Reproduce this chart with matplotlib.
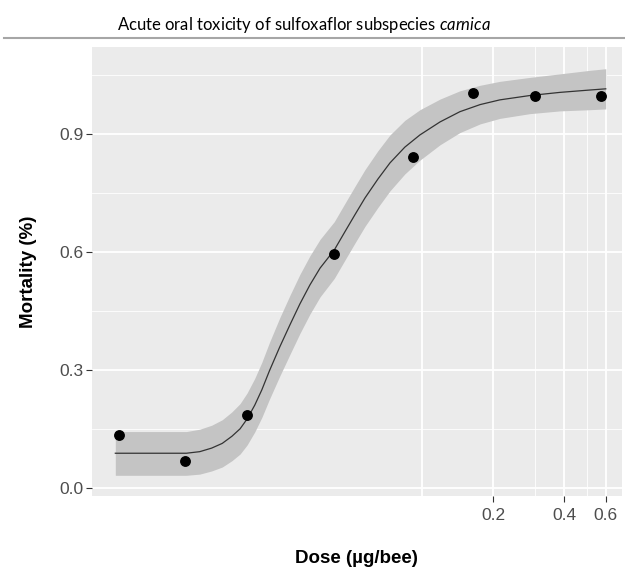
import numpy as np
import matplotlib
matplotlib.use('Agg')
import matplotlib.pyplot as plt
from matplotlib.lines import Line2D

# observed mortality per dose
dose = [0.0052, 0.0099, 0.018, 0.0424, 0.0915, 0.1645, 0.30, 0.575]
mortality = [0.135, 0.069, 0.187, 0.596, 0.842, 1.004, 0.996, 0.997]

# fitted curve and confidence band
fit_dose = [0.005, 0.010, 0.0114, 0.0128, 0.0142, 0.0156, 0.0169, 0.0181, 0.0195,
            0.0209, 0.0225, 0.0249, 0.0275, 0.0303, 0.0334, 0.0369, 0.0424, 0.047,
            0.0518, 0.0572, 0.0649, 0.073, 0.0844, 0.0978, 0.119, 0.1445, 0.176,
            0.2135, 0.286, 0.384, 0.514, 0.600]
fit_mort = [0.089, 0.089, 0.093, 0.102, 0.114, 0.132, 0.151, 0.176, 0.211,
            0.250, 0.298, 0.359, 0.415, 0.468, 0.516, 0.559, 0.605, 0.651,
            0.694, 0.737, 0.785, 0.826, 0.866, 0.897, 0.930, 0.956, 0.974,
            0.986, 0.997, 1.005, 1.011, 1.014]
fit_lo = [0.033, 0.033, 0.036, 0.044, 0.054, 0.070, 0.087, 0.110, 0.143,
          0.180, 0.226, 0.285, 0.340, 0.393, 0.442, 0.486, 0.533, 0.579,
          0.622, 0.665, 0.713, 0.755, 0.798, 0.833, 0.872, 0.903, 0.925,
          0.939, 0.951, 0.958, 0.961, 0.963]
fit_hi = [0.144, 0.144, 0.150, 0.160, 0.174, 0.194, 0.215, 0.242, 0.279,
          0.320, 0.370, 0.433, 0.490, 0.543, 0.590, 0.632, 0.677, 0.723,
          0.766, 0.809, 0.857, 0.897, 0.934, 0.961, 0.988, 1.009, 1.023,
          1.033, 1.043, 1.052, 1.061, 1.065]

x_ticks = [0.2, 0.4, 0.6]
x_tick_labels = ['0.2', '0.4', '0.6']
x_minor = [0.1, 0.3, 0.5, 0.7]
y_ticks = [0.0, 0.3, 0.6, 0.9]
y_minor = [0.15, 0.45, 0.75, 1.05]

plt.rcParams['font.family'] = ['Liberation Sans', 'DejaVu Sans']
plt.rcParams['mathtext.fontset'] = 'custom'
plt.rcParams['mathtext.it'] = 'Lato:italic'
plt.rcParams['mathtext.rm'] = 'Lato'

fig = plt.figure(figsize=(6.25, 5.72), dpi=100)
ax = fig.add_axes([0.1467, 0.1329, 0.9952 - 0.1467, 0.9184 - 0.1329])
ax.set_facecolor('#ebebeb')
ax.set_xscale('log')
ax.set_xlim(0.00397, 0.703)
ax.set_ylim(-0.0195, 1.121)

# grid
for v in y_minor:
    ax.axhline(v, color='white', lw=0.6, zorder=0.5)
for v in y_ticks:
    ax.axhline(v, color='white', lw=1.3, zorder=0.6)
for v in x_minor:
    ax.axvline(v, color='white', lw=1.3 if v == 0.1 else 0.6, zorder=0.5)
for v in x_ticks:
    ax.axvline(v, color='white', lw=1.3, zorder=0.6)

ax.fill_between(fit_dose, fit_lo, fit_hi, color='#c4c4c4', lw=0, zorder=1)
ax.plot(fit_dose, fit_mort, color='#333333', lw=0.9, zorder=2)
ax.plot(dose, mortality, 'o', color='black', ms=6.8, zorder=3)

ax.set_xticks(x_ticks)
ax.set_xticklabels(x_tick_labels)
ax.xaxis.set_minor_locator(matplotlib.ticker.NullLocator())
ax.set_yticks(y_ticks)
ax.set_yticklabels(['%.1f' % v for v in y_ticks])
ax.tick_params(axis='both', length=4, width=0.8, color='#333333',
               labelcolor='#4d4d4d', labelsize=12.5)
ax.tick_params(axis='x', pad=5)
ax.tick_params(axis='y', pad=2)
for s in ax.spines.values():
    s.set_visible(False)

ax.set_xlabel('Dose (µg/bee)', fontsize=13.5, fontweight='bold', labelpad=19)
ax.set_ylabel('Mortality (%)', fontsize=13.5, fontweight='bold', labelpad=16)

fig.text(0.487, 0.957, 'Acute oral toxicity of sulfoxaflor subspecies $\\it{carnica}$',
         ha='center', va='center', fontsize=12, family='Lato')
fig.add_artist(Line2D([0.006, 1.0], [0.934, 0.934], color='#a6a6a6', lw=1.5,
                      transform=fig.transFigure))

fig.savefig('out.png', dpi=100)
